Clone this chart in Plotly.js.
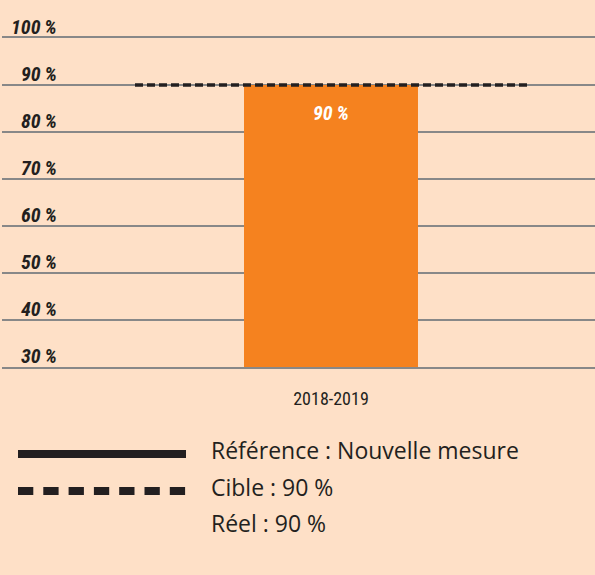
<!DOCTYPE html>
<html>
<head>
<meta charset="utf-8">
<script src="https://cdn.plot.ly/plotly-3.0.1.min.js"></script>
<style>html,body{margin:0;padding:0;background:#FEE0C7;}#chart{width:595px;height:575px;}</style>
</head>
<body>
<div id="chart"></div>
<script>
// ---- data ----
const categories = ["2018-2019"];
const realValues = [90];
const targetValues = [90];
const yTickValues = [30, 40, 50, 60, 70, 80, 90, 100];
const yTickLabels = ["30 %", "40 %", "50 %", "60 %", "70 %", "80 %", "90 %", "100 %"];
const legendLabels = ["Référence : Nouvelle mesure", "Cible", "Réel"];

// ---- geometry helpers (pixels -> paper) ----
const W = 595, H = 575;
const M = {l: 2, r: 0, t: 38, b: 208};
const PW = W - M.l - M.r, PH = H - M.t - M.b;
const px2x = p => (p - M.l) / PW;
const py2y = p => (H - M.b - p) / PH;
const xr = [-0.5548, 0.4452];
const px2data = p => xr[0] + (p - M.l) / PW * (xr[1] - xr[0]);

const ink = "#231F20";
const condensed = "'Liberation Sans Narrow', 'Roboto Condensed', Roboto, sans-serif";

const traces = [
  {
    type: "bar",
    x: categories.map((c, i) => i),
    y: realValues,
    width: 0.2934,
    marker: {color: "#F5821F", line: {width: 0}},
    hoverinfo: "skip"
  },
  {
    type: "scatter",
    mode: "lines",
    x: [px2data(135), px2data(528)],
    y: [targetValues[0], targetValues[0]],
    line: {color: ink, width: 3.5, dash: "8px,4px"},
    hoverinfo: "skip"
  }
];

const annotations = [];
yTickValues.forEach((v, i) => {
  annotations.push({
    xref: "paper", yref: "y", x: px2x(59), y: v, xanchor: "right", yanchor: "middle",
    yshift: 11, showarrow: false, text: "<b><i>" + yTickLabels[i].replace(" ", "\u2009") + "</i></b>",
    font: {family: condensed, size: 20, color: ink}
  });
});
realValues.forEach((v, i) => {
  annotations.push({
    xref: "x", yref: "y", x: i, y: v, yanchor: "middle", yshift: -28, showarrow: false,
    text: "<b><i>" + v + "\u2009%</i></b>", font: {family: condensed, size: 20, color: "#ffffff"}
  });
});
const legendTexts = [legendLabels[0], legendLabels[1] + " : " + targetValues[0] + " %", legendLabels[2] + " : " + realValues[0] + " %"];
const legendY = [450, 487, 523];
legendTexts.forEach((t, i) => {
  annotations.push({
    xref: "paper", yref: "paper", x: px2x(209), y: py2y(legendY[i]), xanchor: "left", yanchor: "middle",
    showarrow: false, text: t, font: {family: "'Open Sans', sans-serif", size: 23, color: ink}
  });
});

const shapes = [
  {type: "line", xref: "paper", yref: "paper", x0: px2x(18), x1: px2x(186), y0: py2y(454), y1: py2y(454),
   line: {color: ink, width: 8}},
  {type: "line", xref: "paper", yref: "paper", x0: px2x(18), x1: px2x(186), y0: py2y(491), y1: py2y(491),
   line: {color: ink, width: 8, dash: "15.3px,10px"}}
];

const layout = {
  width: W, height: H,
  margin: M,
  paper_bgcolor: "#FEE0C7",
  plot_bgcolor: "#FEE0C7",
  showlegend: false,
  xaxis: {
    type: "linear", range: xr, tickvals: categories.map((c, i) => i), ticktext: categories,
    showgrid: false, zeroline: false, showline: true, mirror: true, linecolor: "#888888", linewidth: 2,
    ticks: "outside", ticklen: 14, tickcolor: "rgba(0,0,0,0)",
    tickfont: {family: condensed, size: 18, color: ink}, fixedrange: true
  },
  yaxis: {
    range: [30, 100], tickvals: yTickValues, showticklabels: false,
    showgrid: true, gridcolor: "#888888", gridwidth: 2, zeroline: false, showline: false, fixedrange: true
  },
  annotations: annotations,
  shapes: shapes
};

Plotly.newPlot("chart", traces, layout, {displayModeBar: false, staticPlot: true});
</script>
</body>
</html>
